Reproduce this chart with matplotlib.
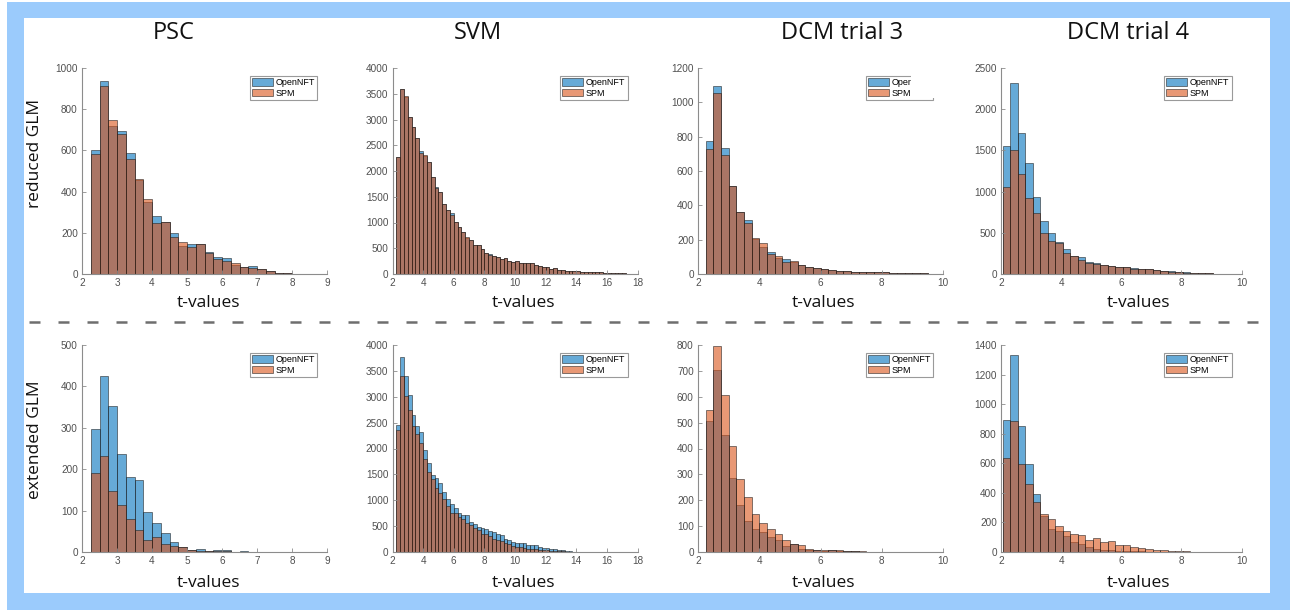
import numpy as np
import matplotlib
matplotlib.use("Agg")
import matplotlib.pyplot as plt
from matplotlib.patches import Rectangle
from matplotlib.lines import Line2D

#figure size in pixels
W, H = 1290, 610

#column titles and row labels
col_titles = ["PSC", "SVM", "DCM trial 3", "DCM trial 4"]
row_labels = ["reduced GLM", "extended GLM"]
series_names = ["OpenNFT", "SPM"]

#bin layout of each column: first edge, bin width
bin_start = [2.25, 2.25, 2.25, 2.05]
bin_width = [0.25, 0.25, 0.25, 0.25]

#axis ranges and ticks of each column
x_lims = [(2, 9), (2, 18), (2, 10), (2, 10)]
x_ticks = [np.arange(2, 10, 1), np.arange(2, 19, 2), np.arange(2, 11, 2), np.arange(2, 11, 2)]
y_lims_red = [1000, 4000, 1200, 2500]
y_steps_red = [200, 500, 200, 500]
y_lims_ext = [500, 4000, 800, 1400]
y_steps_ext = [100, 500, 100, 200]

#counts per bin, reduced GLM
psc_red_nft = [600, 935, 719, 696, 585, 455, 350, 281, 252, 200, 137, 144, 144, 105, 82, 79, 42, 36, 37, 26, 14, 7, 4, 2]
psc_red_spm = [582, 913, 746, 678, 560, 460, 362, 249, 252, 181, 153, 132, 144, 103, 74, 65, 52, 35, 31, 25, 13, 6, 3, 2]

svm_red_nft = [2270, 3600, 3440, 3040, 2847, 2640, 2394, 2300, 2167, 1876, 1682, 1585, 1359, 1249, 1178, 1016,
               919, 822, 700, 666, 563, 563, 485, 414, 380, 356, 336, 291, 304, 259, 239, 246, 213,
               215, 210, 205, 175, 150, 142, 138, 97, 116, 80, 76, 64, 64, 60, 55, 45, 44, 42, 40, 32,
               30, 28, 22, 18, 15, 12, 10, 8]
svm_red_spm = [2265, 3590, 3460, 3040, 2847, 2640, 2342, 2310, 2167, 1876, 1670, 1585, 1359, 1249, 1150, 1016,
               919, 822, 712, 666, 563, 563, 485, 414, 375, 356, 336, 291, 304, 259, 239, 246, 213,
               215, 210, 205, 175, 150, 142, 138, 97, 116, 80, 76, 64, 64, 60, 55, 45, 44, 42, 40, 32,
               30, 28, 22, 18, 15, 12, 10, 8]

dcm3_red_nft = [772, 1093, 733, 510, 364, 315, 202, 160, 126, 91, 88, 68, 53, 43, 37, 27, 23, 19, 17, 14,
                12, 12, 10, 10, 8, 6, 5, 4, 3]
dcm3_red_spm = [729, 1054, 694, 510, 364, 296, 212, 183, 115, 107, 72, 76, 53, 43, 37, 27, 23, 19, 17, 14,
                12, 12, 10, 10, 8, 6, 5, 4, 3]

dcm4_red_nft = [1555, 2317, 1717, 1353, 940, 644, 494, 393, 304, 219, 202, 150, 130, 110, 100, 89, 85, 69,
                61, 57, 49, 40, 32, 28, 20, 16, 12, 8, 5, 3, 2]
dcm4_red_spm = [1053, 1507, 1211, 923, 735, 502, 405, 373, 251, 215, 170, 130, 118, 105, 95, 85, 85, 65,
                58, 60, 45, 38, 30, 25, 18, 15, 12, 8, 5, 3, 2]

#counts per bin, extended GLM
psc_ext_nft = [298, 425, 352, 236, 182, 173, 96, 69, 45, 23, 11, 6, 8, 2, 4, 4, 1, 2, 1, 1, 0, 1, 1]
psc_ext_spm = [190, 233, 148, 113, 79, 53, 28, 36, 19, 15, 11, 6, 2, 2, 2, 2, 1, 1, 1, 1, 0, 0, 0]

svm_ext_nft = [2446, 3772, 3410, 3028, 2640, 2426, 2316, 1973, 1715, 1488, 1436, 1326, 1165, 1016, 925, 841,
               757, 712, 712, 582, 550, 485, 466, 453, 408, 388, 343, 324, 259, 239, 194, 181, 181,
               170, 135, 130, 128, 90, 85, 70, 65, 60, 45, 42, 20, 18, 8, 6, 4, 3]
svm_ext_spm = [2349, 3410, 3021, 2737, 2426, 2284, 2103, 1799, 1553, 1404, 1242, 1132, 1016, 886, 763, 757,
               679, 647, 563, 531, 466, 420, 356, 356, 311, 259, 226, 207, 181, 155, 116, 97, 97,
               80, 60, 55, 50, 35, 32, 30, 25, 20, 15, 12, 8, 5, 3, 2, 1, 1]

dcm3_ext_nft = [505, 704, 452, 287, 180, 119, 87, 76, 57, 48, 22, 32, 13, 9, 7, 5, 7, 4, 3, 2, 1, 1]
dcm3_ext_spm = [548, 797, 607, 410, 284, 212, 145, 112, 90, 71, 48, 30, 26, 12, 9, 6, 8, 8, 5, 5, 3, 1]

dcm4_ext_nft = [893, 1332, 853, 593, 394, 242, 156, 140, 106, 66, 54, 32, 18, 14, 11, 9, 7, 5, 4, 3, 2, 2,
                1, 1, 1, 1, 1, 0, 0]
dcm4_ext_spm = [638, 887, 593, 461, 337, 260, 226, 174, 140, 124, 118, 84, 95, 66, 72, 50, 45, 34, 27, 20,
                16, 11, 9, 7, 4, 1, 1, 1, 1]

red_nft = [psc_red_nft, svm_red_nft, dcm3_red_nft, dcm4_red_nft]
red_spm = [psc_red_spm, svm_red_spm, dcm3_red_spm, dcm4_red_spm]
ext_nft = [psc_ext_nft, svm_ext_nft, dcm3_ext_nft, dcm4_ext_nft]
ext_spm = [psc_ext_spm, svm_ext_spm, dcm3_ext_spm, dcm4_ext_spm]

#colours (matlab default order, face alpha 0.6)
c_nft = (0.0, 0.447, 0.741, 0.6)
c_spm = (0.85, 0.325, 0.098, 0.6)
c_edge = (0.1, 0.1, 0.1, 0.75)
frame_blue = "#9BCBFC"

#pixel boxes of the axes: left, right, top, bottom
ax_x = [(82, 327), (392.5, 637.5), (698, 943), (1001, 1241.5)]
ax_y = [(68, 274), (345, 552)]
title_x = [174, 478, 842, 1128]
xlabel_x = [208, 523, 823, 1138]
xlabel_y = [303, 583]
ylabel_y = [153, 440]

def fx(x):
    return x / W

def fy(y):
    return 1 - y / H

fig = plt.figure(figsize=(W / 100, H / 100), dpi=100)
fig.patch.set_facecolor("white")

#light blue frame round the panel
fig.add_artist(Rectangle((fx(7), 0), 1 - fx(7), fy(2), transform=fig.transFigure,
                         facecolor=frame_blue, edgecolor="none", zorder=-10))
fig.add_artist(Rectangle((fx(24), fy(593)), fx(1270) - fx(24), fy(18) - fy(593), transform=fig.transFigure,
                         facecolor="white", edgecolor="none", zorder=-9))

for r in range(2):
    for c in range(4):
        x0, x1 = ax_x[c]
        y0, y1 = ax_y[r]
        ax = fig.add_axes([fx(x0), fy(y1), fx(x1) - fx(x0), fy(y0) - fy(y1)])
        if r == 0:
            nft, spm = red_nft[c], red_spm[c]
            ymax, ystep = y_lims_red[c], y_steps_red[c]
        else:
            nft, spm = ext_nft[c], ext_spm[c]
            ymax, ystep = y_lims_ext[c], y_steps_ext[c]
        left_nft = bin_start[c] + bin_width[c] * np.arange(len(nft))
        left_spm = bin_start[c] + bin_width[c] * np.arange(len(spm))
        ax.bar(left_nft, nft, width=bin_width[c], align="edge", facecolor=c_nft,
               edgecolor=c_edge, linewidth=0.5, label=series_names[0])
        ax.bar(left_spm, spm, width=bin_width[c], align="edge", facecolor=c_spm,
               edgecolor=c_edge, linewidth=0.5, label=series_names[1])
        ax.set_xlim(x_lims[c])
        ax.set_ylim(0, ymax)
        ax.set_xticks(x_ticks[c])
        ax.set_yticks(np.arange(0, ymax + 1, ystep))
        for s in ["top", "right"]:
            ax.spines[s].set_visible(False)
        for s in ["left", "bottom"]:
            ax.spines[s].set_color("#8c8c8c")
            ax.spines[s].set_linewidth(0.8)
        ax.tick_params(direction="in", length=3, width=0.6, color="#8c8c8c",
                       labelsize=7.2, labelcolor="#505050", pad=3)
        for lab in ax.get_xticklabels() + ax.get_yticklabels():
            lab.set_fontfamily("Liberation Sans")
        leg = ax.legend(loc="upper right", bbox_to_anchor=(1 - 10 / (x1 - x0), 1 - 8 / (y1 - y0)),
                        fontsize=6.5, prop={"family": "Liberation Sans", "size": 6.5},
                        handlelength=2.3, handleheight=0.9, handletextpad=0.3,
                        borderpad=0.25, labelspacing=0.15, borderaxespad=0,
                        fancybox=False, framealpha=1, edgecolor="#9a9a9a")
        leg.get_frame().set_linewidth(0.8)

#titles, axis labels
for c in range(4):
    fig.text(fx(title_x[c]), fy(33), col_titles[c], ha="center", va="center",
             fontsize=17, family="Open Sans", color="#111111")
    for r in range(2):
        fig.text(fx(xlabel_x[c]), fy(xlabel_y[r]), "t-values", ha="center", va="center",
                 fontsize=12.5, family="Open Sans", color="#111111")
for r in range(2):
    fig.text(fx(35), fy(ylabel_y[r]), row_labels[r], ha="center", va="center", rotation=90,
             fontsize=12.5, family="Open Sans", color="#111111")

#dashed separator between the rows
fig.add_artist(Line2D([fx(29), fx(1262)], [fy(322), fy(322)], transform=fig.transFigure,
                      color="#6e6e6e", linewidth=1.8, dashes=(4.4, 7.2)))

#the legend of DCM trial 3 (reduced) is cut off in the original
fig.add_artist(Rectangle((fx(911), fy(97.5)), fx(935) - fx(911), fy(74) - fy(97.5),
                         transform=fig.transFigure, facecolor="white", edgecolor="none", zorder=10))

plt.savefig("out.png", dpi=100)
